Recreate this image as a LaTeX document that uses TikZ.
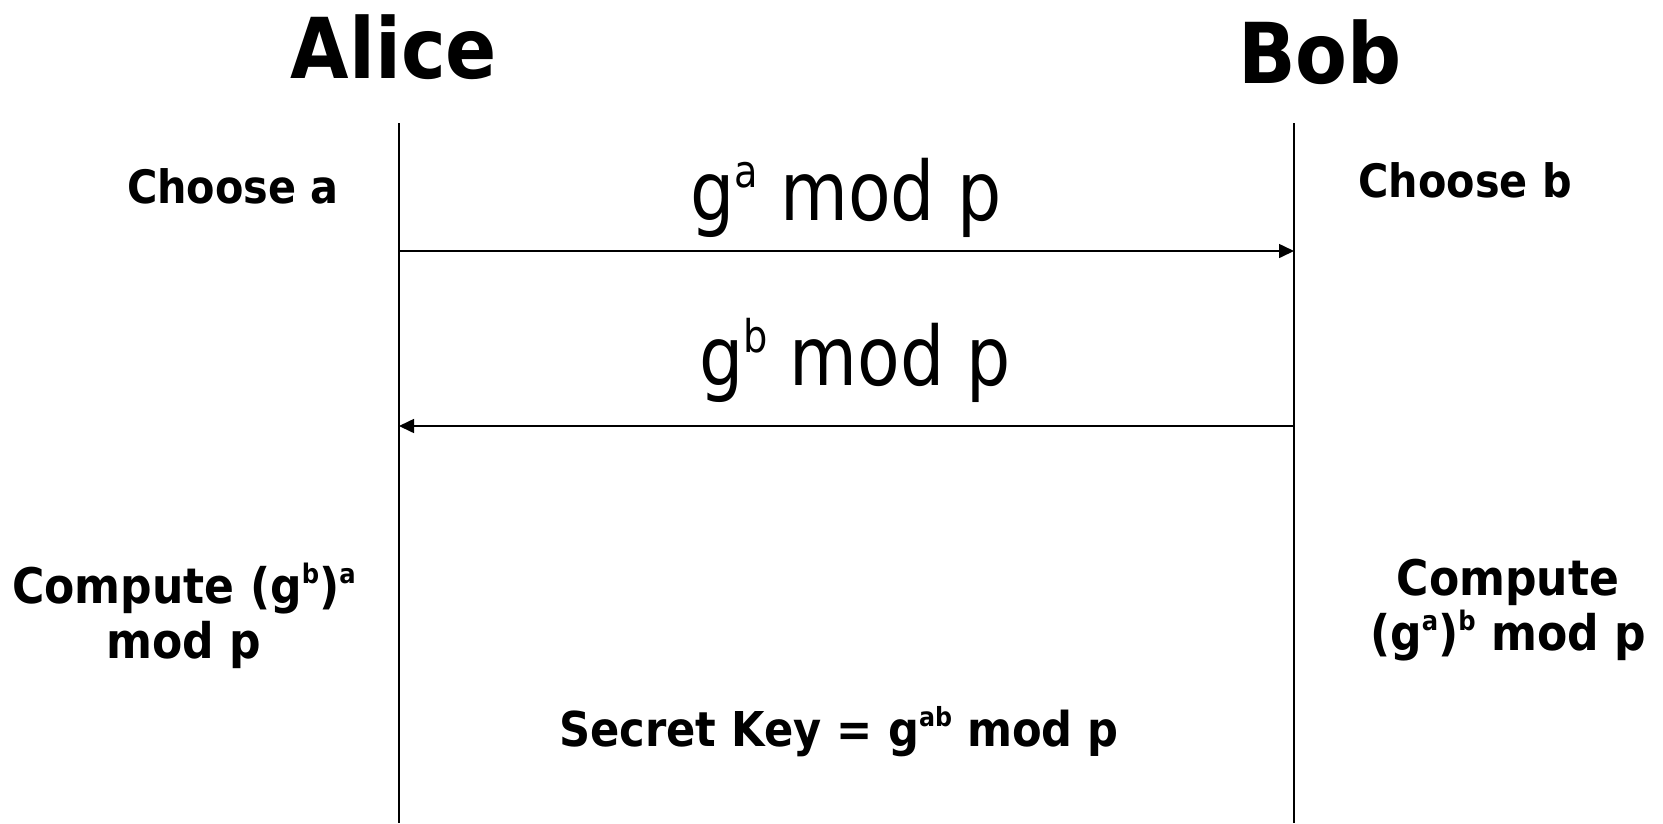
\documentclass[tikz,border=0pt]{standalone}
\usepackage{fontspec}
\setmainfont[FakeStretch=0.85, BoldFeatures={FakeStretch=0.9}]{DejaVu Sans}
\usetikzlibrary{arrows.meta}
\newcommand\hi[1]{\raisebox{.4em}{\scalebox{.55}{#1}}}

\begin{document}
\begin{tikzpicture}[x=1pt,y=-1pt,
	party/.style={font=\fontsize{84}{84}\selectfont\bfseries, anchor=base, inner sep=0},
	note/.style={font=\fontsize{46}{46}\selectfont\bfseries, anchor=base, inner sep=0, align=center},
	calc/.style={note, font=\fontsize{49}{55}\selectfont\bfseries},
	msg/.style={font=\fontsize{82}{82}\selectfont, anchor=base, inner sep=0},
	life/.style={line width=1.6pt},
	send/.style={line width=1.6pt, -{Triangle[length=15pt,width=14pt]}}]
	\useasboundingbox (0,0) rectangle (1663,823);

	% the two parties
	\node[party] (alice) at (394,78) {Alice};
	\node[party] (bob) at (1320,83) {Bob};

	\coordinate (aTop) at (399,123);
	\coordinate (aEnd) at (399,823);
	\coordinate (bTop) at (1294,123);
	\coordinate (bEnd) at (1294,823);

	\path [life] (aTop) edge (aEnd);
	\path [life] (bTop) edge (bEnd);

	% messages
	\node[note] (choosea) at (233,203) {Choose a};
	\node[note] (chooseb) at (1465,197) {Choose b};

	\node[msg] (ga) at (846,220) {g\hi{a} mod p};
	\node[msg] (gb) at (855,385) {g\hi{b} mod p};

	\coordinate (ga1) at (399,251);
	\coordinate (ga2) at (1294,251);
	\coordinate (gb1) at (1294,426);
	\coordinate (gb2) at (399,426);

	\path [send] (ga1) edge (ga2);
	\path [send] (gb1) edge (gb2);

	% shared key
	\node[calc] (computea) at (184,658) {Compute (g\hi{b})\hi{a}\\mod p};
	\node[calc] (computeb) at (1508,650) {Compute\\ (g\hi{a})\hi{b} mod p};
	\node[note, font=\fontsize{48}{48}\selectfont\bfseries] (secret) at (839,746) {Secret Key = g\hi{ab} mod p};
\end{tikzpicture}
\end{document}
